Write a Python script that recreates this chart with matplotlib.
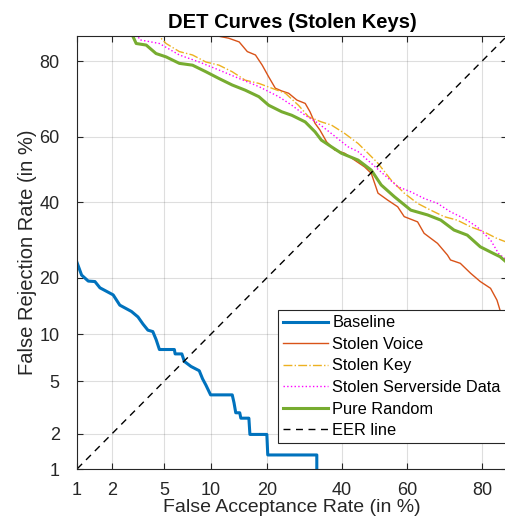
#!/usr/bin/env python
# -*- coding: utf-8 -*-
import sys
import math
import numpy as np
import matplotlib as mpl
mpl.use("Agg")
import matplotlib.pyplot as plt

# DET curve points: false acceptance rate (%) and false rejection rate (%)
baseline_far = [1.0, 1.1, 1.26, 1.44, 1.59, 2.05, 2.32, 2.87, 3.22, 3.51, 3.82, 4.15, 4.39, 4.63,
                5.88, 5.95, 6.6, 6.85, 7.57, 8.53, 8.94, 9.37, 10.0, 13.3, 13.6, 13.9, 14.6, 14.8,
                16.3, 16.5, 20.0, 20.2, 32.6, 32.6]
baseline_frr = [23.5, 20.6, 19.3, 19.2, 17.9, 16.5, 14.6, 13.5, 12.6, 11.5, 10.6, 10.4, 9.3, 8.1,
                8.1, 7.6, 7.6, 6.8, 6.3, 5.9, 5.2, 4.7, 4.0, 4.0, 3.5, 2.94, 2.94, 2.67,
                2.67, 1.98, 1.98, 1.33, 1.33, 0.5]

voice_far = [10.5, 11.0, 12.7, 14.5, 16.0, 17.6, 19.0, 20.4, 21.9, 23.4, 25.1, 27.2, 29.4, 30.7,
             32.1, 33.5, 35.4, 37.8, 40.8, 43.8, 46.9, 49.0, 51.1, 54.1, 57.2, 59.2, 63.2, 65.1,
             68.9, 71.6, 72.4, 74.9, 77.4, 79.6, 81.8, 83.1, 83.7, 85.5]
voice_frr = [86.0, 85.0, 84.6, 83.9, 82.0, 81.3, 79.1, 76.4, 73.6, 72.9, 72.3, 70.5, 69.6, 67.3,
             64.0, 62.0, 58.5, 56.0, 55.0, 52.9, 50.8, 48.8, 42.7, 40.6, 38.6, 35.7, 34.2, 31.0,
             28.3, 25.3, 24.1, 23.3, 21.0, 19.2, 17.8, 15.5, 13.7, 12.5]

key_far = [4.2, 5.16, 6.35, 7.74, 9.37, 11.2, 13.3, 15.6, 18.3, 21.1, 24.3, 27.6, 30.3, 33.9,
           36.8, 40.8, 44.9, 48.0, 51.1, 55.2, 59.2, 63.2, 67.0, 70.7, 74.1, 77.4, 80.4, 83.1, 85.5]
key_frr = [86.0, 83.6, 82.0, 81.3, 79.8, 79.1, 77.6, 75.6, 74.8, 73.6, 72.3, 69.1, 65.9, 64.4,
           63.5, 61.0, 58.0, 55.0, 51.9, 46.7, 42.7, 39.6, 37.6, 35.7, 34.7, 32.8, 31.4, 29.6, 28.3]

server_far = [3.1, 3.31, 4.63, 6.35, 8.53, 11.2, 14.5, 18.3, 22.7, 25.9, 29.4, 33.0, 36.8, 41.8,
              44.9, 49.0, 53.1, 57.2, 61.2, 65.1, 68.9, 72.4, 75.8, 78.9, 81.8, 83.4, 85.5]
server_frr = [86.0, 84.3, 83.6, 81.3, 79.8, 78.0, 76.0, 74.0, 71.4, 69.1, 66.3, 64.0, 61.0, 57.0,
              55.5, 51.9, 48.3, 44.7, 43.1, 41.1, 39.6, 37.1, 35.2, 32.8, 29.2, 25.7, 23.5]

random_far = [2.8, 3.12, 3.71, 4.38, 5.16, 6.35, 7.74, 9.37, 11.2, 13.3, 15.6, 18.3, 20.4, 23.4,
              25.9, 29.4, 32.1, 33.9, 36.8, 39.8, 44.9, 49.0, 52.1, 56.2, 61.2, 66.1, 69.8, 73.3,
              76.6, 79.6, 82.4, 83.7, 85.5]
random_frr = [86.0, 83.6, 83.3, 81.6, 80.9, 79.5, 79.1, 77.6, 76.0, 74.4, 73.1, 71.4, 69.1, 67.3,
              66.3, 64.4, 61.5, 59.0, 57.0, 55.0, 52.9, 49.8, 45.2, 41.6, 37.6, 36.2, 34.7, 31.9,
              30.5, 27.4, 25.7, 24.9, 22.9]

eer_line = [0.1, 99.9]
ticks = [1, 2, 5, 10, 20, 40, 60, 80]


_erf = np.vectorize(math.erf, otypes=[float])


def norm_cdf(z):
  return 0.5 * (1.0 + _erf(np.asarray(z, dtype=float) / math.sqrt(2.0)))


def probit(pct):
  p = np.clip(np.asarray(pct, dtype=float) / 100.0, 1e-9, 1 - 1e-9)
  lo = np.full(p.shape, -10.0)
  hi = np.full(p.shape, 10.0)
  for _ in range(60):
    mid = 0.5 * (lo + hi)
    below = norm_cdf(mid) < p
    lo = np.where(below, mid, lo)
    hi = np.where(below, hi, mid)
  return 0.5 * (lo + hi)


def inv_probit(z):
  return 100.0 * norm_cdf(z)


def main():
  plt.rcParams['font.family'] = ['Liberation Sans', 'DejaVu Sans']
  dark = '#262626'
  fig = plt.figure(figsize=(5.06, 5.21), dpi=100)
  ax = fig.add_axes([77 / 506, 52 / 521, 430 / 506, 433 / 521])
  ax.set_xscale('function', functions=(probit, inv_probit))
  ax.set_yscale('function', functions=(probit, inv_probit))

  ax.plot(baseline_far, baseline_frr, color='#0072BD', lw=2.2, label='Baseline')
  ax.plot(voice_far, voice_frr, color='#D95319', lw=1.0, label='Stolen Voice')
  ax.plot(key_far, key_frr, color='#EDB120', lw=1.0, linestyle='-.', label='Stolen Key')
  ax.plot(server_far, server_frr, color='#FF00FF', lw=1.0, linestyle=':', label='Stolen Serverside Data')
  ax.plot(random_far, random_frr, color='#77AC30', lw=2.2, label='Pure Random')
  ax.plot(eer_line, eer_line, color='black', lw=1.0, linestyle=(0, (5, 4)), label='EER line')

  ax.set_xlim(1, 85)
  ax.set_ylim(1, 85)
  ax.set_xticks(ticks)
  ax.set_yticks(ticks)
  ax.set_xticklabels([str(t) for t in ticks])
  ax.set_yticklabels([str(t) for t in ticks])
  ax.minorticks_off()
  ax.tick_params(direction='in', length=4, colors=dark, labelsize=13, top=True, right=True)
  ax.tick_params(axis='y', pad=12.5)
  ax.tick_params(axis='x', pad=9.5)
  ax.grid(True, color=dark, alpha=0.15, linewidth=0.8)
  for s in ax.spines.values():
    s.set_color(dark)
    s.set_linewidth(0.8)

  ax.set_title("DET Curves (Stolen Keys)", fontsize=14.5, fontweight='bold', pad=5.5)
  ax.set_xlabel("False Acceptance Rate (in %)", fontsize=14, color=dark, labelpad=0)
  ax.set_ylabel("False Rejection Rate (in %)", fontsize=14.5, color=dark, labelpad=2)

  leg = ax.legend(loc='lower right', bbox_to_anchor=(0.997, 0.06), borderaxespad=0,
                  fontsize=11.8, fancybox=False, framealpha=1, edgecolor=dark,
                  handlelength=2.75, handletextpad=0.25, labelspacing=0.4, borderpad=0.3)
  leg.get_frame().set_linewidth(0.8)

  plt.savefig("out.png", dpi=100)


if __name__ == "__main__":
  sys.exit(main())
